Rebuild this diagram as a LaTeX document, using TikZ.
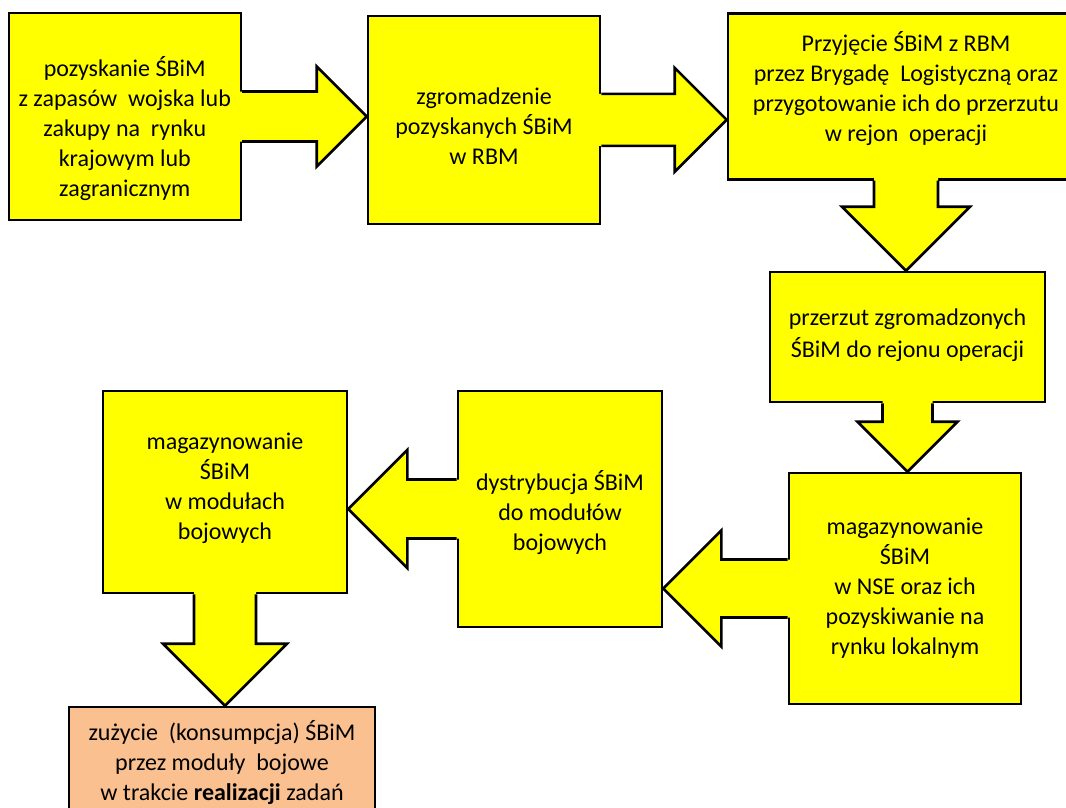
\documentclass[tikz,border=0pt]{standalone}
\usepackage{fontspec}
\setmainfont{Carlito}
\usetikzlibrary{calc,positioning}

\definecolor{boxyellow}{RGB}{255,255,0}
\definecolor{boxorange}{RGB}{250,192,144}

\tikzset{
  box/.style={draw=black,line width=2.6pt,fill=boxyellow,inner sep=0pt},
  txt/.style={align=center,inner sep=0pt,font=\fontsize{24}{30}\selectfont},
  arrowfill/.style={fill=boxyellow},
  arrowline/.style={draw=black,line width=2.6pt}
}

% fat block arrow: start, tip, half width of the shaft
\newcommand{\fatarrow}[3]{%
  \coordinate (fa-s) at ($(#1)!-2.5pt!(#2)$);
  \coordinate (fa-h) at ($(#2)!2*#3pt!(#1)$);
  \fill[arrowfill] ($(fa-s)!#3pt!90:(#2)$) -- ($(fa-h)!#3pt!90:(#2)$)
    -- ($(fa-h)!2*#3pt!90:(#2)$) -- (#2) -- ($(fa-h)!2*#3pt!-90:(#2)$)
    -- ($(fa-h)!#3pt!-90:(#2)$) -- ($(fa-s)!#3pt!-90:(#2)$) -- cycle;
  \draw[arrowline] ($(#1)!#3pt!90:(#2)$) -- ($(fa-h)!#3pt!90:(#2)$)
    -- ($(fa-h)!2*#3pt!90:(#2)$) -- (#2) -- ($(fa-h)!2*#3pt!-90:(#2)$)
    -- ($(fa-h)!#3pt!-90:(#2)$) -- ($(#1)!#3pt!-90:(#2)$);
}

\begin{document}
\begin{tikzpicture}[x=1pt,y=-1pt]

\fill[white] (0,0) rectangle (1066,807);
\clip (0,0) rectangle (1066,807);

% boxes
\node[box,minimum width=232pt,minimum height=207pt] (b1) at (124.8,116.5) {};
\node[box,minimum width=232pt,minimum height=208pt] (b2) at (484,119.8) {};
\node[box,minimum width=356pt,minimum height=166pt] (b3) at (906,96.3) {};
\node[box,minimum width=275pt,minimum height=130pt] (b4) at (907.5,337) {};
\node[box,minimum width=232pt,minimum height=231pt] (b5) at (905,588.5) {};
\node[box,minimum width=204pt,minimum height=236pt] (b6) at (560,509) {};
\node[box,minimum width=244pt,minimum height=202pt] (b7) at (225,492) {};
\node[box,fill=boxorange,minimum width=306pt,minimum height=128pt] (b8) at (222,771) {};

% arrow tips
\coordinate (tip1) at (b1.east -| b2.west);
\coordinate (tip2) at (b2.east -| b3.west);
\coordinate (tip3) at (b3.south |- b4.north);
\coordinate (tip4) at (b4.south |- b5.north);
\coordinate (tip5) at (b5.west -| b6.east);
\coordinate (tip6) at (b6.west -| b7.east);
\coordinate (tip7) at (b7.south |- b8.north);

\fatarrow{b1.east}{tip1}{25}
\fatarrow{b2.east}{tip2}{26}
\fatarrow{b3.south}{tip3}{32}
\fatarrow{b4.south}{tip4}{25}
\fatarrow{b5.west}{tip5}{29}
\fatarrow{b6.west}{tip6}{29.5}
\fatarrow{b7.south}{tip7}{31}

% texts
\node[txt] (t1) at ([yshift=-12pt]b1.center) {pozyskanie ŚBiM\\z zapasów\ \ wojska lub\\zakupy na\ \ rynku\\krajowym lub\\zagranicznym};
\node[txt] (t2) at ([yshift=-6.5pt]b2.center) {zgromadzenie\\pozyskanych ŚBiM\\w RBM};
\node[txt] (t3) at ([yshift=7.5pt]b3.center) {Przyjęcie ŚBiM z RBM\\przez Brygadę\ \ Logistyczną oraz\\przygotowanie ich do przerzutu\\w rejon\ \ operacji};
\node[txt,font=\fontsize{24}{32}\selectfont] (t4) at ([yshift=2pt]b4.center) {przerzut zgromadzonych\\ŚBiM do rejonu operacji};
\node[txt] (t5) at ([yshift=0pt]b5.center) {magazynowanie\\ŚBiM\\w NSE oraz ich\\pozyskiwanie na\\rynku lokalnym};
\node[txt] (t6) at ([yshift=-4pt]b6.center) {dystrybucja ŚBiM\\do modułów\\bojowych};
\node[txt] (t7) at ([yshift=3.5pt]b7.center) {magazynowanie\\ŚBiM\\w modułach\\bojowych};
\node[txt] (t8) at (222,762) {zużycie\ \ (konsumpcja) ŚBiM\\przez moduły\ \ bojowe\\w trakcie \textbf{realizacji} zadań};

\end{tikzpicture}
\end{document}
